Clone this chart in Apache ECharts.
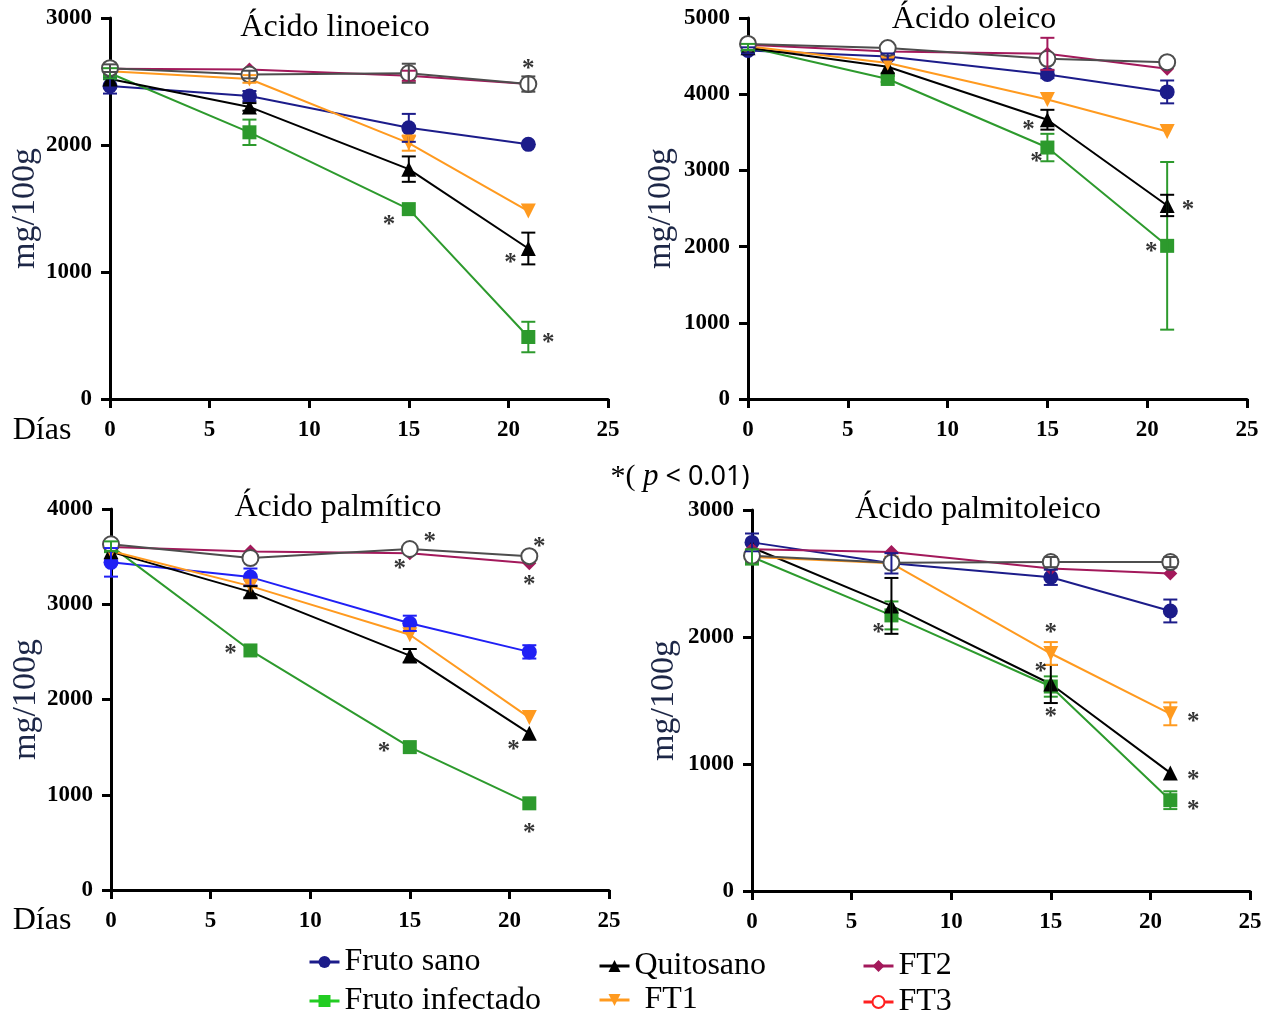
<!DOCTYPE html>
<html>
<head>
<meta charset="utf-8">
<script src="https://cdn.jsdelivr.net/npm/echarts@6/dist/echarts.min.js"></script>
<style>
html,body{margin:0;padding:0;background:#fff;}
#chart{width:1271px;height:1017px;}
</style>
</head>
<body>
<div id="chart"></div>
<script>
// ---- data ----
const days = [0, 7, 15, 21];
const seriesNames = ['Fruto sano', 'Fruto infectado', 'Quitosano', 'FT1', 'FT2', 'FT3'];
const xTicks = [0, 5, 10, 15, 20, 25];

// order: Fruto sano, Fruto infectado, Quitosano, FT1, FT2, FT3
const linoMean = [
  [2465, 2385, 2135, 2005],
  [2565, 2100, 1495, 488],
  [2520, 2300, 1810, 1185],
  [2580, 2520, 2015, 1480],
  [2600, 2595, 2545, 2480],
  [2605, 2555, 2565, 2480]
];
const linoErr = [
  [60, 40, 110, 0],
  [40, 100, 0, 120],
  [0, 30, 100, 125],
  [0, 30, 60, 0],
  [0, 0, 40, 0],
  [30, 30, 75, 60]
];
const linoStars = [[21, 2650], [14, 1420], [20.1, 1120], [22, 490]];

const oleMean = [
  [4575, 4495, 4260, 4030],
  [4620, 4200, 3300, 2010],
  [4610, 4360, 3665, 2540],
  [4630, 4410, 3930, 3510],
  [4650, 4560, 4530, 4335],
  [4660, 4605, 4465, 4420]
];
const oleErr = [
  [40, 40, 50, 150],
  [40, 40, 180, 1100],
  [0, 0, 130, 140],
  [0, 0, 0, 0],
  [0, 0, 210, 0],
  [0, 0, 0, 0]
];
const oleStars = [[14.05, 3620], [14.45, 3190], [22.05, 2570], [20.2, 2010]];

const palmMean = [
  [3440, 3285, 2800, 2500],
  [3610, 2515, 1500, 910],
  [3550, 3130, 2460, 1645],
  [3560, 3190, 2680, 1810],
  [3600, 3555, 3535, 3430],
  [3630, 3485, 3580, 3505]
];
const palmErr = [
  [150, 90, 80, 70],
  [50, 0, 0, 0],
  [0, 60, 70, 0],
  [0, 0, 0, 0],
  [0, 0, 0, 0],
  [0, 0, 0, 0]
];
const palmStars = [[16, 3720], [14.5, 3440], [21.5, 3670], [21, 3265], [6, 2550], [13.7, 1520], [20.2, 1535], [21, 665]];

const ptoMean = [
  [2745, 2580, 2470, 2205],
  [2630, 2170, 1610, 715],
  [2705, 2245, 1630, 930],
  [2630, 2580, 1870, 1395],
  [2690, 2670, 2540, 2500],
  [2640, 2585, 2590, 2590]
];
const ptoErr = [
  [70, 80, 60, 90],
  [60, 110, 80, 70],
  [0, 220, 150, 0],
  [0, 0, 90, 90],
  [0, 0, 0, 0],
  [0, 0, 40, 40]
];
const ptoStars = [[6.35, 2085], [15, 2085], [14.5, 1775], [15, 1420], [22.15, 1380], [22.15, 925], [22.15, 690]];

const panelTitles = ['Ácido linoeico', 'Ácido oleico', 'Ácido palmítico', 'Ácido palmitoleico'];
const yMax = [3000, 5000, 4000, 3000];

// ---- styling ----
const FONT = '"Liberation Serif", "Times New Roman", serif';
const baseColors = ['#1c1c8a', '#2d9a2d', '#000000', '#ff9a1f', '#a3195b', '#4d4d4d'];
const legendColors = ['#1c1c8a', '#22cc22', '#000000', '#ff9a1f', '#a3195b', '#ff2020'];
const symbols = ['circle', 'rect', 'triangle', 'triangle', 'diamond', 'emptyCircle'];
const symbolRot = [0, 0, 0, 180, 0, 0];
const symbolSizes = [15, 14, 15, 15, 14, 16];

const grids = [
  {left: 110, top: 18, width: 498, height: 381},
  {left: 748, top: 18, width: 499, height: 381},
  {left: 111, top: 509, width: 498, height: 381},
  {left: 752, top: 510, width: 498, height: 381}
];
const nameGaps = [66, 70, 67, 71];

const panels = [
  {mean: linoMean, err: linoErr, stars: linoStars},
  {mean: oleMean, err: oleErr, stars: oleStars},
  {mean: palmMean, err: palmErr, stars: palmStars},
  {mean: ptoMean, err: ptoErr, stars: ptoStars}
];

function axisCommon() {
  return {
    axisLine: {show: true, onZero: false, lineStyle: {color: '#000', width: 3}},
    axisTick: {show: true, inside: false, length: 9, lineStyle: {color: '#000', width: 3}},
    splitLine: {show: false}
  };
}

const xAxes = grids.map((g, i) => Object.assign(axisCommon(), {
  type: 'value', gridIndex: i, min: 0, max: 25, interval: 5,
  axisLabel: {color: '#000', fontFamily: FONT, fontWeight: 'bold', fontSize: 23, margin: 20,
    formatter: v => xTicks.includes(v) ? String(v) : ''}
}));
const yAxes = grids.map((g, i) => Object.assign(axisCommon(), {
  type: 'value', gridIndex: i, min: 0, max: yMax[i], interval: 1000,
  name: 'mg/100g', nameLocation: 'middle', nameRotate: 90, nameGap: nameGaps[i],
  nameTextStyle: {color: '#1d2747', fontFamily: FONT, fontSize: 34},
  axisLabel: {color: '#000', fontFamily: FONT, fontWeight: 'bold', fontSize: 23, margin: 18,
    formatter: v => String(v)}
}));

const series = [];
panels.forEach((p, pi) => {
  for (let s = 0; s < 6; s++) {
    let color = baseColors[s];
    if (pi === 2 && s === 0) color = '#2020f5';
    const lineData = days.map((d, j) => [d, p.mean[s][j]]);
    series.push({
      type: 'line', name: seriesNames[s], xAxisIndex: pi, yAxisIndex: pi,
      data: lineData, symbol: symbols[s], symbolRotate: symbolRot[s], symbolSize: symbolSizes[s],
      showAllSymbol: true, animation: false,
      lineStyle: {color: color, width: 2},
      itemStyle: {color: color, borderColor: color, borderWidth: s === 5 ? 2.5 : 0},
      z: 3
    });
    const errData = days.map((d, j) => [d, p.mean[s][j], p.err[s][j]]).filter(r => r[2] > 0);
    series.push({
      type: 'custom', name: seriesNames[s], xAxisIndex: pi, yAxisIndex: pi,
      data: errData, animation: false, z: 4, silent: true,
      renderItem: function (params, api) {
        const x = api.value(0), y = api.value(1), e = api.value(2);
        const top = api.coord([x, y + e]);
        const bot = api.coord([x, y - e]);
        const hw = 7;
        const st = {stroke: color, lineWidth: 2};
        return {type: 'group', children: [
          {type: 'line', shape: {x1: top[0], y1: top[1], x2: bot[0], y2: bot[1]}, style: st},
          {type: 'line', shape: {x1: top[0] - hw, y1: top[1], x2: top[0] + hw, y2: top[1]}, style: st},
          {type: 'line', shape: {x1: bot[0] - hw, y1: bot[1], x2: bot[0] + hw, y2: bot[1]}, style: st}
        ]};
      },
      encode: {x: 0, y: 1}
    });
  }
  series.push({
    type: 'scatter', name: 'sig', xAxisIndex: pi, yAxisIndex: pi,
    data: p.stars, symbolSize: 1, itemStyle: {color: 'rgba(0,0,0,0)'}, animation: false, z: 6, silent: true,
    label: {show: true, position: 'inside', formatter: '*', color: '#000', fontFamily: FONT,
      fontWeight: 'bold', fontSize: 25, offset: [0, 7]}
  });
});

const legendPos = [
  {left: 308, top: 946},
  {left: 308, top: 985},
  {left: 598, top: 950},
  {left: 598, top: 984},
  {left: 862, top: 950},
  {left: 862, top: 986}
];
const legends = seriesNames.map((n, i) => ({
  left: legendPos[i].left, top: legendPos[i].top, orient: 'horizontal',
  selectedMode: false, itemWidth: 30, itemHeight: 15, padding: 0,
  data: [{name: n, itemStyle: {color: legendColors[i], borderColor: legendColors[i]},
          lineStyle: {color: legendColors[i], width: 3}}],
  textStyle: {color: '#000', fontFamily: FONT, fontSize: 32, padding: i === 3 ? [0, 0, 0, 10] : 0}
}));

const titlePos = [[335, 28], [974, 20], [338, 508], [978, 510]];
const graphics = panelTitles.map((t, i) => ({
  type: 'text', x: titlePos[i][0], y: titlePos[i][1], silent: true,
  style: {text: t, fontFamily: FONT, fontSize: 32, fill: '#000', align: 'center', verticalAlign: 'middle'}
}));
graphics.push({type: 'text', x: 42, y: 431, silent: true, style: {text: 'Días', fontFamily: FONT, fontSize: 32, fill: '#000', align: 'center', verticalAlign: 'middle'}});
graphics.push({type: 'text', x: 42, y: 921, silent: true, style: {text: 'Días', fontFamily: FONT, fontSize: 32, fill: '#000', align: 'center', verticalAlign: 'middle'}});
graphics.push({type: 'text', x: 680, y: 477, silent: true, style: {
  text: '{a|*( }{i|p}{b| < 0.01)}', align: 'center', verticalAlign: 'middle',
  rich: {
    a: {fontFamily: FONT, fontSize: 30, fill: '#000'},
    i: {fontFamily: FONT, fontSize: 31, fill: '#000', fontStyle: 'italic'},
    b: {fontFamily: '"Noto Sans", sans-serif', fontSize: 27, fill: '#000'}
  }
}});

const chart = echarts.init(document.getElementById('chart'), null, {renderer: 'canvas'});
chart.setOption({
  backgroundColor: '#fff',
  animation: false,
  grid: grids,
  xAxis: xAxes,
  yAxis: yAxes,
  legend: legends,
  series: series,
  graphic: graphics
});
</script>
</body>
</html>
